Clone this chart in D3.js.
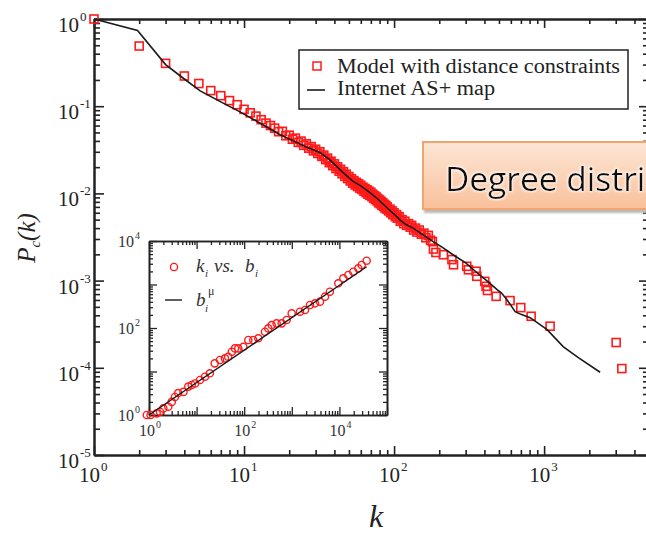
<!DOCTYPE html>
<html><head><meta charset="utf-8">
<script src="https://cdn.jsdelivr.net/npm/d3@7"></script>
<style>
html,body{margin:0;padding:0;background:#fff;overflow:hidden}
svg{display:block}
</style></head><body>
<svg id="chart" width="646" height="533"></svg>
<script>
// Cumulative degree distribution, model with distance constraints (red squares)
const modelK = [1,2,3,4,5,6,7,8,9,10,11,12,13,14,15,16,17,18,19,20,21,22,23,24,25,26,27,28,29,30,
  31,32,33,34,35,36,37,38,39,40,41,42,43,44,45,46,47,48,49,50,51,52,53,54,55,56,57,58,59,60,
  61,62,63,64,65,66,67,68,69,70,71,72,73,74,75,76,77,78,79,80,81,82,83,84,85,86,87,88,89,90,
  92,94,95,97,98,100,102,104,105,108,110,113,116,118,121,125,128,131,135,139,142,147,152,158,163,169,175,
  180,183,190,213,243,249,305,313,352,356,402,410,419,479,593,699,819,1096,3020,3296];
const modelP = [1.0,0.49,0.31,0.222,0.182,0.151,0.132,0.116,0.104,0.092,0.084,0.077,0.070,0.064,0.060,0.056,
  0.0510,0.0515,0.0458,0.0465,0.0418,0.0430,0.0384,0.0398,0.0356,0.0370,0.0330,0.0344,0.0308,0.0321,
  0.0287,0.0300,0.0266,0.0275,0.0244,0.0254,0.0225,0.0234,0.0208,0.0218,0.0193,0.0202,0.0180,0.0189,0.0168,
  0.0177,0.0157,0.0166,0.0148,0.0156,0.0139,0.0147,0.0131,0.0140,0.0125,0.0134,0.0120,0.0129,0.0115,0.0124,
  0.0111,0.0118,0.0106,0.0114,0.0102,0.0110,0.0098,0.0106,0.0095,0.0103,0.0092,0.0098,0.0088,0.0094,0.0085,
  0.0091,0.0082,0.0087,0.0078,0.0084,0.0076,0.0081,0.0073,0.0078,0.0071,0.0075,0.0068,0.0073,0.0066,0.0070,
  0.0063,0.0066,0.0060,0.0063,0.0057,0.0060,0.0054,0.0057,0.0052,0.0054,0.0048,0.0050,0.0045,0.0048,0.0043,
  0.0045,0.0041,0.0043,0.0038,0.0040,0.0036,0.0038,0.0034,0.0035,0.0031,0.0033,0.0029,
  0.0028,0.0023,0.0021,0.00198,0.00174,0.00152,0.00146,0.00133,0.00128,0.00112,0.00098,0.00086,0.00077,
  0.00066,0.00059,0.00049,0.00039,0.00030,0.000195,0.000098];

// Internet AS+ map (black line)
const asK = [1,1.95,3,3.9,5.1,7,9.4,12,17.4,22,26,32,37,45,53,60,69,78,90,100,110,120,134,150,182,210,247,300,357,420,486,520,567,641,700,807,1047,1339,1700,2362];
const asP = [1,0.74,0.30,0.212,0.15,0.112,0.086,0.068,0.047,0.039,0.034,0.0295,0.0245,0.0178,0.0138,0.0122,0.0102,0.0086,0.0068,0.0058,0.0049,0.0044,0.0040,0.0035,0.0028,0.0024,0.00198,0.0016,0.00123,0.00098,0.00079,0.00072,0.00060,0.00044,0.00041,0.000376,0.000274,0.000175,0.00013,0.000089];

// Inset: degree k_i against b_i, with power-law fit b_i^mu
const insetB = [0.9,1.08,1.45,1.7,2.0,2.54,3.0,3.5,4.1,5.3,6.7,7.9,9.3,11.8,15,19,24,31,39.5,46,55,64,75,96,122,155,198,273,321,378,480,612,780,994,1486,1893,2411,3072,3910,4980,6310,9480,12080,15380,19590,24950,29300,37400];
const insetK = [1,1,1.09,1.19,1.42,1.55,2.0,2.6,3.2,3.4,4.5,4.9,5.3,6.4,7.6,9.1,15.4,18.4,20,21.9,28.5,34,34,37,53,53,58,82,98,117,128,128,153,218,237,259,338,369,403,525,683,1065,1387,1652,1968,2353,2806,3524];
const fitB = [1, 37400];
const fitK = [1, 2565];

// Tick label exponents
const xTickExp = [0, 1, 2, 3];
const yTickExp = [0, -1, -2, -3, -4, -5];
const insetXTickExp = [0, 2, 4];
const insetYTickExp = [0, 2, 4];

const legendLabels = ["Model with distance constraints", "Internet AS+ map"];
const bannerText = "Degree distribution";

const SERIF = "'Liberation Serif','Times New Roman',serif";
const RED = "#ff1a1a";
const svg = d3.select("#chart");

// ---------- main panel ----------
const x = d3.scaleLog().domain([1, 5000]).range([94, 649]);
const y = d3.scaleLog().domain([1e-5, 1]).range([455, 19]);

function logTicks(scale) {
  return scale.ticks().filter(v => v >= scale.domain()[0] && v <= scale.domain()[1]);
}
function isDecade(v) { return Math.abs(Math.log10(v) - Math.round(Math.log10(v))) < 1e-9; }

function drawAxis(g, axisFn, scale, minorLen, majorLen, width) {
  const all = logTicks(scale);
  g.append("g").call(axisFn(scale).tickValues(all.filter(v => !isDecade(v))).tickSizeInner(-minorLen).tickSizeOuter(0).tickFormat(""));
  g.append("g").call(axisFn(scale).tickValues(all.filter(isDecade)).tickSizeInner(-majorLen).tickSizeOuter(0).tickFormat(""));
  g.selectAll("path.domain").attr("stroke", "#222").attr("stroke-width", width);
  g.selectAll(".tick line").attr("stroke", "#222").attr("stroke-width", width * 0.8);
}

const axes = svg.append("g");
drawAxis(axes.append("g").attr("transform", "translate(0,455)"), d3.axisBottom, x, 5, 9, 2);
drawAxis(axes.append("g").attr("transform", "translate(0,19)"), d3.axisTop, x, 5, 9, 2);
drawAxis(axes.append("g").attr("transform", "translate(94,0)"), d3.axisLeft, y, 6, 10, 2);
drawAxis(axes.append("g").attr("transform", "translate(649,0)"), d3.axisRight, y, 6, 10, 2);

// power-of-ten labels
function powLabel(g, py, base, sup, size, supSize, supDy, anchorX, color) {
  g.append("text").attr("x", anchorX).attr("y", py).attr("text-anchor", "end")
    .attr("font-family", SERIF).attr("font-size", size).attr("fill", color).text(base);
  g.append("text").attr("x", anchorX + 1).attr("y", py + supDy).attr("text-anchor", "start")
    .attr("font-family", SERIF).attr("font-size", supSize).attr("fill", color).text(sup);
}
const labels = svg.append("g");
yTickExp.forEach(e => {
  const ty = y(Math.pow(10, e));
  powLabel(labels, ty + 13, "10", String(e), 21, 13, -11, 79, "#222");
});
xTickExp.forEach(e => {
  const tx = x(Math.pow(10, e));
  powLabel(labels, 482, "10", String(e), 21, 13, -11, tx + 6, "#222");
});

// axis titles
svg.append("text").attr("x", 376).attr("y", 527).attr("text-anchor", "middle")
  .attr("font-family", SERIF).attr("font-style", "italic").attr("font-size", 32).attr("fill", "#222").text("k");
const yt = svg.append("text").attr("transform", "translate(35,238) rotate(-90)").attr("text-anchor", "middle")
  .attr("font-family", SERIF).attr("font-style", "italic").attr("font-size", 25).attr("fill", "#222");
yt.append("tspan").text("P");
yt.append("tspan").attr("dy", 5).attr("font-size", 15).text("c");
yt.append("tspan").attr("dy", -5).text("(k)");

// model squares
const sq = 8;
svg.append("g").selectAll("rect").data(modelK.map((k, i) => [k, modelP[i]])).join("rect")
  .attr("x", d => x(d[0]) - sq / 2).attr("y", d => y(d[1]) - sq / 2)
  .attr("width", sq).attr("height", sq)
  .attr("fill", "none").attr("stroke", RED).attr("stroke-width", 1.6);

// AS+ map line
svg.append("path").datum(asK.map((k, i) => [k, asP[i]]))
  .attr("d", d3.line().x(d => x(d[0])).y(d => y(d[1])))
  .attr("fill", "none").attr("stroke", "#1a1a1a").attr("stroke-width", 1.6);

// legend
const lg = svg.append("g");
lg.append("rect").attr("x", 299).attr("y", 50).attr("width", 329).attr("height", 59)
  .attr("fill", "#fff").attr("stroke", "#222").attr("stroke-width", 1.5);
lg.append("rect").attr("x", 317 - sq / 2).attr("y", 66 - sq / 2).attr("width", sq).attr("height", sq)
  .attr("fill", "none").attr("stroke", RED).attr("stroke-width", 1.5);
lg.append("line").attr("x1", 307).attr("x2", 325).attr("y1", 90).attr("y2", 90)
  .attr("stroke", "#1a1a1a").attr("stroke-width", 1.6);
lg.append("text").attr("x", 337).attr("y", 73).attr("font-family", SERIF).attr("font-size", 20)
  .attr("textLength", 283).attr("lengthAdjust", "spacingAndGlyphs").attr("fill", "#222").text(legendLabels[0]);
lg.append("text").attr("x", 337).attr("y", 95).attr("font-family", SERIF).attr("font-size", 20)
  .attr("textLength", 158).attr("lengthAdjust", "spacingAndGlyphs").attr("fill", "#222").text(legendLabels[1]);

// ---------- inset ----------
const xi = d3.scaleLog().domain([1, 1e5]).range([149, 387]);
const yi = d3.scaleLog().domain([1, 1e4]).range([415, 241]);
const inset = svg.append("g");
inset.append("rect").attr("x", 149).attr("y", 241).attr("width", 238).attr("height", 174).attr("fill", "#fff");
drawAxis(inset.append("g").attr("transform", "translate(0,415)"), d3.axisBottom, xi, 4, 8, 1.6);
drawAxis(inset.append("g").attr("transform", "translate(0,241)"), d3.axisTop, xi, 4, 8, 1.6);
drawAxis(inset.append("g").attr("transform", "translate(149,0)"), d3.axisLeft, yi, 4, 8, 1.6);
drawAxis(inset.append("g").attr("transform", "translate(387,0)"), d3.axisRight, yi, 4, 8, 1.6);
insetXTickExp.forEach(e => {
  powLabel(inset, 436, "10", String(e), 16, 10, -8, xi(Math.pow(10, e)) + 6, "#333");
});
insetYTickExp.forEach(e => {
  powLabel(inset, yi(Math.pow(10, e)) + 6, "10", String(e), 16, 10, -8, 134, "#333");
});

inset.append("g").selectAll("circle").data(insetB.map((b, i) => [b, insetK[i]])).join("circle")
  .attr("cx", d => xi(d[0])).attr("cy", d => yi(d[1])).attr("r", 3.6)
  .attr("fill", "none").attr("stroke", RED).attr("stroke-width", 1.4);
inset.append("path").datum(fitB.map((b, i) => [b, fitK[i]]))
  .attr("d", d3.line().x(d => xi(d[0])).y(d => yi(d[1])))
  .attr("fill", "none").attr("stroke", "#1a1a1a").attr("stroke-width", 1.4);

// inset legend
inset.append("circle").attr("cx", 174).attr("cy", 267).attr("r", 3.6)
  .attr("fill", "none").attr("stroke", RED).attr("stroke-width", 1.4);
const l1 = inset.append("text").attr("y", 272).attr("font-family", SERIF)
  .attr("font-style", "italic").attr("font-size", 19).attr("fill", "#333");
l1.append("tspan").attr("x", 196).text("k");
l1.append("tspan").attr("x", 205).attr("dy", 5).attr("font-size", 11).text("i");
l1.append("tspan").attr("x", 214).attr("dy", -5).text("vs.");
l1.append("tspan").attr("x", 245).text("b");
l1.append("tspan").attr("x", 255).attr("dy", 5).attr("font-size", 11).text("i");
inset.append("line").attr("x1", 165).attr("x2", 182).attr("y1", 300).attr("y2", 300)
  .attr("stroke", "#1a1a1a").attr("stroke-width", 1.4);
const l2 = inset.append("text").attr("y", 306).attr("font-family", SERIF)
  .attr("font-style", "italic").attr("font-size", 19).attr("fill", "#333");
l2.append("tspan").attr("x", 196).text("b");
l2.append("tspan").attr("x", 205).attr("dy", 6).attr("font-size", 11).text("i");
l2.append("tspan").attr("x", 208).attr("dy", -17).attr("font-size", 12).attr("font-style", "normal").text("μ");

// ---------- slide banner ----------
const defs = svg.append("defs");
const grad = defs.append("linearGradient").attr("id", "bannerFill").attr("x1", 0).attr("y1", 0).attr("x2", 0).attr("y2", 1);
grad.append("stop").attr("offset", "0%").attr("stop-color", "#fde6d6");
grad.append("stop").attr("offset", "100%").attr("stop-color", "#f9c09a");
const blur = defs.append("filter").attr("id", "soft").attr("x", "-10%").attr("y", "-50%").attr("width", "120%").attr("height", "200%");
blur.append("feGaussianBlur").attr("stdDeviation", 1.2);
const glow = defs.append("filter").attr("id", "glow").attr("x", "-5%").attr("y", "-20%").attr("width", "110%").attr("height", "140%");
glow.append("feMorphology").attr("in", "SourceAlpha").attr("operator", "dilate").attr("radius", 1).attr("result", "d");
glow.append("feGaussianBlur").attr("in", "d").attr("stdDeviation", 1).attr("result", "b");
glow.append("feFlood").attr("flood-color", "#fff").attr("flood-opacity", 0.8);
glow.append("feComposite").attr("in2", "b").attr("operator", "in").attr("result", "w");
const fm = glow.append("feMerge");
fm.append("feMergeNode").attr("in", "w");
fm.append("feMergeNode").attr("in", "SourceGraphic");

svg.append("rect").attr("x", 424).attr("y", 207).attr("width", 240).attr("height", 6)
  .attr("fill", "#b8b8b8").attr("filter", "url(#soft)");
svg.append("rect").attr("x", 423).attr("y", 142).attr("width", 240).attr("height", 67)
  .attr("fill", "url(#bannerFill)").attr("stroke", "#f2a46c").attr("stroke-width", 2);
svg.append("text").attr("x", 445).attr("y", 191).attr("font-family", "'Open Sans',sans-serif")
  .attr("font-size", 33.5).attr("fill", "#111").attr("filter", "url(#glow)").text(bannerText);
</script>
</body></html>
